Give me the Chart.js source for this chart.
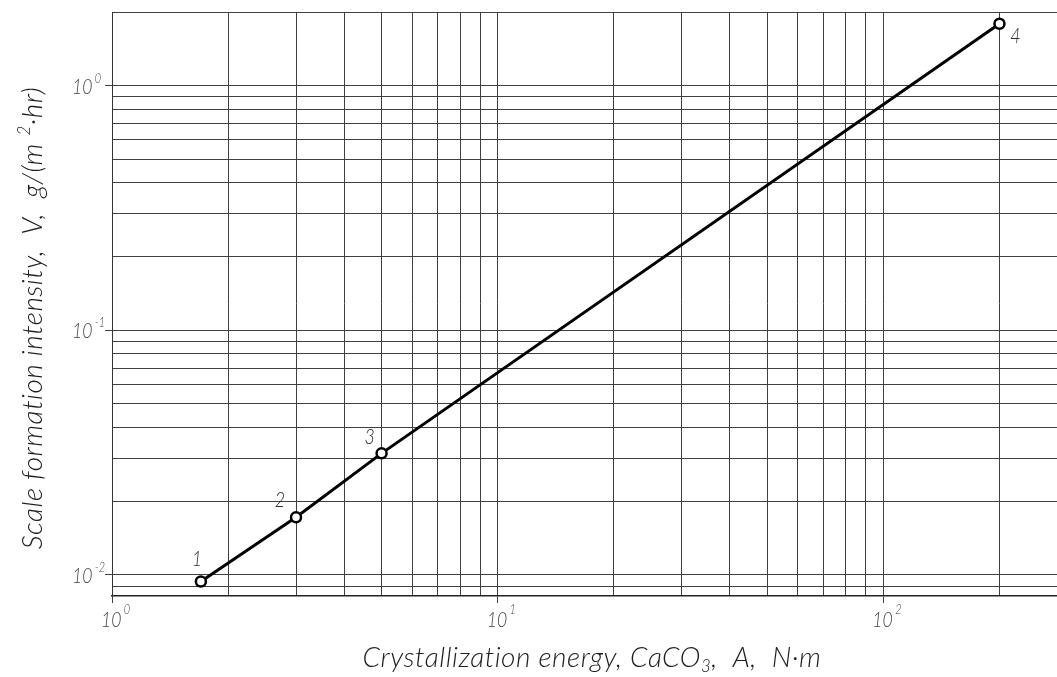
<!DOCTYPE html>
<html>
<head>
<meta charset="utf-8">
<script src="https://cdn.jsdelivr.net/npm/chart.js@4.4.0/dist/chart.umd.min.js"></script>
<style>
  html, body { margin: 0; padding: 0; background: #fff; }
  #wrap { width: 1057px; height: 677px; }
</style>
</head>
<body>
<div id="wrap"><canvas id="chart"></canvas></div>
<script>
// data
const energy = [1.7, 3, 5, 200];
const intensity = [0.0094, 0.0172, 0.0314, 1.79];
const pointNames = ["1", "2", "3", "4"];
// grid lines of the log paper
const xGrid = [1, 2, 3, 4, 5, 6, 7, 8, 9, 10, 20, 30, 40, 50, 60, 70, 80, 90, 100, 200];
const yGrid = [0.009, 0.01, 0.02, 0.03, 0.04, 0.05, 0.06, 0.07, 0.08, 0.09,
  0.1, 0.2, 0.3, 0.4, 0.5, 0.6, 0.7, 0.8, 0.9, 1, 2];
// decade labels: mantissa + exponent
const xDecades = [1, 10, 100];
const xExponents = ["0", "1", "2"];
const yDecades = [0.01, 0.1, 1];
const yExponents = ["-2", "-1", "0"];
const xTitleRuns = [{ t: "Crystallization energy, CaCO" }, { t: "3", k: 0.6, dy: 5 }, { t: ",  A,  N\u00b7m" }];
const yTitleRuns = [{ t: "Scale formation intensity,  V,  g/(m " }, { t: "2", k: 0.6, dy: -12 }, { t: "\u00b7hr)" }];

const fontFam = "Lato, 'Liberation Sans', sans-serif";
const gridCol = "#3f3f3f";
const labelOffsets = [[-4, -22], [-16, -17], [-12, -16], [16, 12]];

// draws a row of text pieces (for sub/superscripts), squeezed horizontally
function drawRich(ctx, runs, x, y, o) {
  ctx.save();
  ctx.translate(x, y);
  if (o.rot) ctx.rotate(o.rot);
  ctx.scale(o.sx, 1);
  ctx.letterSpacing = o.spacing || "0px";
  const setFont = (k) => { ctx.font = "italic " + (o.weight || 400) + " " + o.size * (k || 1) + "px " + fontFam; };
  let total = 0;
  runs.forEach((r) => { setFont(r.k); r.w = ctx.measureText(r.t).width; total += r.w + (r.gap || 0); });
  let cx = o.align === "center" ? -total / 2 : 0;
  runs.forEach((r) => {
    setFont(r.k);
    cx += r.gap || 0;
    ctx.fillText(r.t, cx, r.dy || 0);
    cx += r.w;
  });
  ctx.restore();
}

const annotate = {
  id: "annotate",
  afterDraw(chart) {
    const { ctx, scales: { x, y } } = chart;
    ctx.save();
    ctx.textAlign = "left";
    // point numbers
    ctx.fillStyle = "#2f2f2f";
    ctx.textBaseline = "middle";
    for (let i = 0; i < energy.length; i++) {
      drawRich(ctx, [{ t: pointNames[i] }],
        x.getPixelForValue(energy[i]) + labelOffsets[i][0],
        y.getPixelForValue(intensity[i]) + labelOffsets[i][1],
        { size: 21, sx: 0.85, align: "center", weight: 300 });
    }
    // decade tick labels
    ctx.textBaseline = "alphabetic";
    ctx.fillStyle = "#474747";
    xDecades.forEach((v, i) => {
      drawRich(ctx, [{ t: "10" }, { t: xExponents[i], k: 0.62, dy: -13, gap: 3 }],
        x.getPixelForValue(v) - 11, 627, { size: 22, sx: 0.8, weight: 300 });
    });
    yDecades.forEach((v, i) => {
      drawRich(ctx, [{ t: "10" }, { t: yExponents[i], k: 0.62, dy: -11, gap: 3 }],
        72, y.getPixelForValue(v) + 8, { size: 22, sx: 0.8, weight: 300 });
    });
    // axis titles
    ctx.fillStyle = "#1e1e1e";
    const titleFont = { size: 28, sx: 1, align: "center", weight: 300, spacing: "0.5px" };
    drawRich(ctx, xTitleRuns, 592, 667, titleFont);
    drawRich(ctx, yTitleRuns, 42, 318, Object.assign({ rot: -Math.PI / 2 }, titleFont));
    ctx.restore();
  },
};

const isDecade = (v, list) => list.includes(v);

let chart = new Chart(document.getElementById("chart"), {
  type: "line",
  data: {
    datasets: [{
      data: energy.map((e, i) => ({ x: e, y: intensity[i] })),
      borderColor: "#000",
      borderWidth: 3,
      pointRadius: 5,
      pointBorderWidth: 2.5,
      pointBorderColor: "#000",
      pointBackgroundColor: "#fff",
      tension: 0,
      clip: false,
    }],
  },
  options: {
    responsive: true,
    maintainAspectRatio: false,
    animation: false,
    layout: { autoPadding: false, padding: { top: 12, left: 0, right: 0, bottom: 0 } },
    plugins: { legend: { display: false }, tooltip: { enabled: false } },
    scales: {
      x: {
        type: "logarithmic",
        min: 1,
        max: 282,
        afterBuildTicks: (scale) => { scale.ticks = xGrid.map((v) => ({ value: v })); },
        afterFit: (scale) => {
          scale.height = 81;
          scale.paddingLeft = 0;
          scale.paddingRight = 0;
        },
        grid: {
          color: gridCol,
          lineWidth: 1,
          tickLength: 7,
          tickColor: (c) => (isDecade(c.tick.value, xDecades) ? gridCol : "rgba(0,0,0,0)"),
        },
        border: { color: "#222", width: 1.5 },
        ticks: { display: false, autoSkip: false },
      },
      y: {
        type: "logarithmic",
        min: 0.0082,
        max: 2,
        afterBuildTicks: (scale) => { scale.ticks = yGrid.map((v) => ({ value: v })); },
        afterFit: (scale) => {
          scale.width = 112;
          scale.paddingTop = 0;
          scale.paddingBottom = 0;
        },
        grid: {
          color: gridCol,
          lineWidth: 1,
          tickLength: 7,
          tickColor: (c) => (isDecade(c.tick.value, yDecades) ? gridCol : "rgba(0,0,0,0)"),
        },
        border: { color: "#333", width: 1 },
        ticks: { display: false, autoSkip: false },
      },
    },
  },
  plugins: [annotate],
});
</script>
</body>
</html>
